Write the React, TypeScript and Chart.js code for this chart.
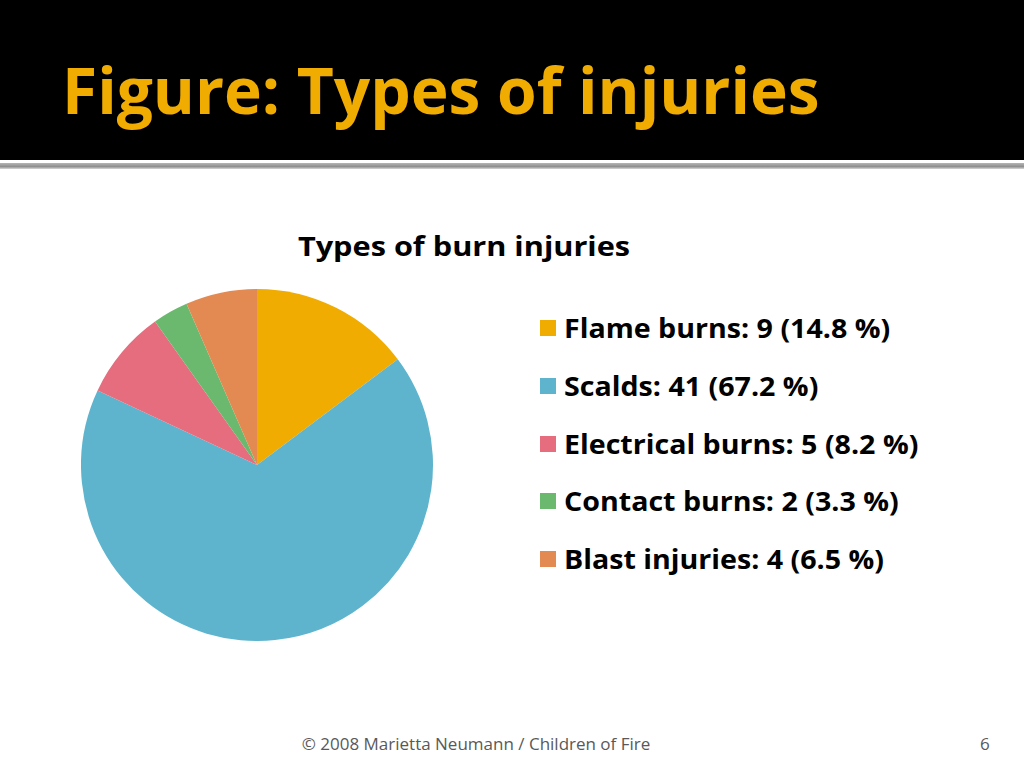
import React, { useEffect, useRef } from "react";
import { Chart, registerables } from "chart.js";

Chart.register(...registerables);

const categories = ["Flame burns", "Scalds", "Electrical burns", "Contact burns", "Blast injuries"];
const counts = [9, 41, 5, 2, 4];
const percents = ["14.8", "67.2", "8.2", "3.3", "6.5"];
const colors = ["#F0AC00", "#5FB4CD", "#E56D7E", "#6AB96E", "#E38A53"];

const FONT = "'Open Sans', 'Noto Sans', sans-serif";

export default function App() {
  const ref = useRef<HTMLCanvasElement | null>(null);
  useEffect(() => {
    if (!ref.current) return;
    const chart = new Chart(ref.current, {
      type: "pie",
      data: {
        labels: categories,
        datasets: [{ data: counts, backgroundColor: colors, borderWidth: 0 }],
      },
      options: {
        animation: false,
        responsive: false,
        devicePixelRatio: 1,
        layout: { padding: 0 },
        plugins: { legend: { display: false }, tooltip: { enabled: false }, title: { display: false } },
      },
    });
    return () => chart.destroy();
  }, []);

  return (
    <div style={{ position: "absolute", left: 0, top: 0, width: 1024, height: 768, background: "#fff", fontFamily: FONT, overflow: "hidden" }}>
      <div style={{ position: "absolute", left: 0, top: 0, width: 1024, height: 160, background: "#000" }} />
      <div style={{ position: "absolute", left: 0, top: 163, width: 1024, height: 6, background: "linear-gradient(#b5b5b5, #8f8f8f 60%, #d8d8d8)" }} />
      <div style={{ position: "absolute", left: 62, top: 45, fontSize: 65, fontWeight: 700, color: "#F0AC00", lineHeight: "88px", whiteSpace: "nowrap", transform: "scaleX(0.985)", transformOrigin: "left center" }}>
        Figure: Types of injuries
      </div>
      <div style={{ position: "absolute", left: 0, width: 928, top: 228, textAlign: "center", fontSize: 26, fontWeight: 700, color: "#000", lineHeight: "36px", transform: "scaleX(1.18)", transformOrigin: "464px center" }}>
        Types of burn injuries
      </div>
      <canvas ref={ref} width={352} height={352} style={{ position: "absolute", left: 81, top: 289, width: 352, height: 352 }} />
      {categories.map((c, i) => (
        <div key={c} style={{ position: "absolute", left: 540, top: 310 + i * 57.8, height: 36, display: "flex", alignItems: "center", whiteSpace: "nowrap" }}>
          <div style={{ width: 16, height: 16, background: colors[i], marginRight: 8 }} />
          <span style={{ fontSize: 26, fontWeight: 700, color: "#000", display: "inline-block", transform: "scaleX(1.1)", transformOrigin: "left center" }}>
            {c}: {counts[i]} ({percents[i]} %)
          </span>
        </div>
      ))}
      <div style={{ position: "absolute", left: 0, width: 952, top: 732, textAlign: "center", fontSize: 17, color: "#595959", lineHeight: "24px" }}>
        © 2008 Marietta Neumann / Children of Fire
      </div>
      <div style={{ position: "absolute", left: 980, top: 732, fontSize: 17, color: "#595959", lineHeight: "24px" }}>6</div>
    </div>
  );
}
